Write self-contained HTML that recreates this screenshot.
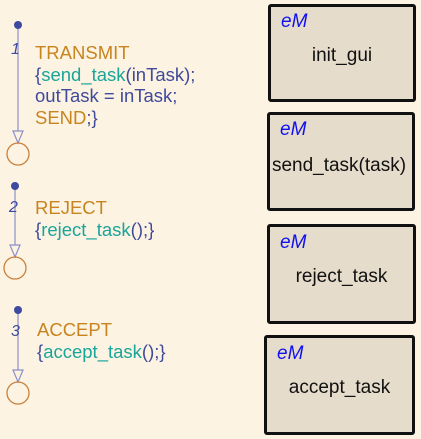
<!DOCTYPE html>
<html><head><style>
body{margin:0;width:421px;height:439px;background:#fdf3e2;position:relative;overflow:hidden;font-family:"Liberation Sans",sans-serif}
.t{position:absolute;font-size:18.5px;line-height:21.5px;white-space:pre;color:#3f4a9a}
.o{color:#c8841e}.c{color:#1aa59b}
.b{position:absolute;box-sizing:border-box;border:3px solid #111;background:#e6dccb;border-radius:3px}
.e{position:absolute;left:10px;font-style:italic;color:#1010f0;font-size:19px}
.n{position:absolute;left:-10px;right:-10px;text-align:center;font-size:19px;color:#111}
</style></head><body>
<svg width="421" height="439" style="position:absolute;left:0;top:0">
<g stroke="#8a90c8" stroke-width="1.2" fill="none">
<line x1="18" y1="25" x2="18" y2="143"/><polygon points="13,131 23,131 18,143" fill="#fdf3e2"/>
<line x1="15" y1="186" x2="15" y2="257"/><polygon points="10,245 20,245 15,257" fill="#fdf3e2"/>
<line x1="18" y1="310" x2="18" y2="382"/><polygon points="13,370 23,370 18,382" fill="#fdf3e2"/>
</g>
<g fill="#3d4aa0"><circle cx="18" cy="25" r="4"/><circle cx="15" cy="186" r="4"/><circle cx="18" cy="310" r="4"/></g>
<g stroke="#c8803c" stroke-width="1.3" fill="none"><circle cx="18" cy="154" r="11"/><circle cx="15" cy="268" r="11"/><circle cx="18" cy="393" r="11"/></g>
<g font-family="Liberation Sans" font-style="italic" font-size="16" fill="#3d4aa0">
<text x="11" y="54">1</text><text x="9" y="212">2</text><text x="11" y="336">3</text></g>
</svg>
<div class="t" style="left:35px;top:42px"><span class="o">TRANSMIT</span>
{<span class="c">send_task</span>(inTask);
outTask = inTask;
<span class="o">SEND</span>;}</div>
<div class="t" style="left:35px;top:197px"><span class="o">REJECT</span>
{<span class="c">reject_task</span>();}</div>
<div class="t" style="left:37px;top:319px"><span class="o">ACCEPT</span>
{<span class="c">accept_task</span>();}</div>
<div class="b" style="left:268px;top:4px;width:148px;height:98px"><span class="e" style="top:4px">eM</span><span class="n" style="top:38px">init_gui</span></div>
<div class="b" style="left:267px;top:112px;width:148px;height:99px"><span class="e" style="top:4px">eM</span><span class="n" style="top:40px;left:-14px">send_task(task)</span></div>
<div class="b" style="left:267px;top:224px;width:149px;height:100px"><span class="e" style="top:5px">eM</span><span class="n" style="top:39px">reject_task</span></div>
<div class="b" style="left:264px;top:335px;width:151px;height:100px"><span class="e" style="top:5px">eM</span><span class="n" style="top:39px">accept_task</span></div>
</body></html>
